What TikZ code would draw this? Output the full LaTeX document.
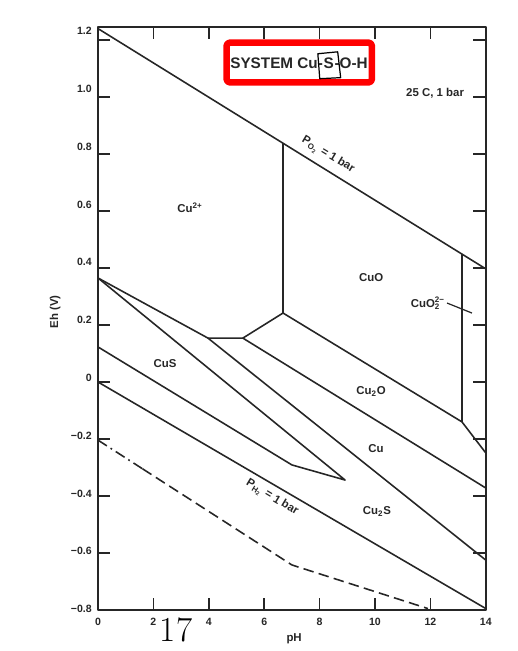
\documentclass[tikz,border=0pt]{standalone}
\usepackage{fontspec}
\newfontfamily\arialfont{Liberation Sans}
\usetikzlibrary{calc, positioning}

\begin{document}
\begin{tikzpicture}[x=0.554cm, y=5.7cm, line join=round,
    grenze/.style={line width=0.9pt, black!85},
    rahmen/.style={line width=1.2pt, black!85},
    feld/.style={font=\arialfont\bfseries\fontsize{6.5}{7}\selectfont, black!85, inner sep=1pt},
    achse/.style={font=\arialfont\bfseries\fontsize{6}{7}\selectfont, black!85, inner sep=0pt},
    titel/.style={font=\arialfont\bfseries\fontsize{8.7}{10}\selectfont, black!85, inner sep=0pt}]
    \useasboundingbox (-3.538,-0.9439) rectangle (15.162,1.3404);
    % Rahmen mit Teilstrichen
    \draw[rahmen] (0,-0.8) rectangle (14,1.245);
    \foreach \v in {1.2,1.0,0.8,0.6,0.4,0.2,0,-0.2,-0.4,-0.6} {
        \draw[grenze] (0,\v) -- ++(0.24cm,0);
        \draw[grenze] (14,\v) -- ++(-0.26cm,0);
    }
    \foreach \p in {2,4,...,12} {
        \draw[grenze] (\p,1.245) -- ++(0,-0.24cm);
        \draw[grenze] (\p,-0.8) -- ++(0,0.24cm);
    }
    \foreach \v/\t [count=\i] in {1.2/1.2, 1.0/1.0, 0.8/0.8, 0.6/0.6, 0.4/0.4, 0.2/0.2, 0/0,
        -0.2/−0.2, -0.4/−0.4, -0.6/−0.6, -0.8/−0.8}
        \node[achse, anchor=east, xshift=-3.4pt, yshift={(1+4*(\v+0.8))*0.567pt}] (eh\i) at (0,\v) {\t};
    \foreach \p [count=\i] in {0,2,...,14}
        \node[achse] (ph\i) at (\p,-0.842) {\p};
    % Eckpunkte der Stabilitaetsfelder
    \coordinate (oA) at (0,1.24);
    \coordinate (oE) at (14,0.397);
    \coordinate (vO) at ($(oA)!0.4771!(oE)$);
    \coordinate (vR) at ($(oA)!0.9386!(oE)$);
    \coordinate (jCuO) at (6.68,0.242);
    \coordinate (jCuOb) at (13.14,-0.140);
    \coordinate (rCuOb) at (14,-0.249);
    \coordinate (hR) at (5.23,0.154);
    \coordinate (hL) at (3.97,0.154);
    \coordinate (apex) at (0,0.365);
    \coordinate (spitze) at (8.92,-0.344);
    \coordinate (gL) at (0,0.123);
    \coordinate (knick) at (7.0,-0.291);
    \coordinate (eR) at (14,-0.625);
    \coordinate (dR) at (14,-0.372);
    \coordinate (hzL) at (0,0);
    \coordinate (hzR) at (14,-0.795);
    \coordinate (dsA) at (0,-0.204);
    \coordinate (dsB) at (7.0,-0.642);
    \coordinate (dsM) at ($(dsA)!0.23!(dsB)$);
    \coordinate (dsE) at (11.91,-0.795);
    % Grenzlinien
    \draw[grenze] (oA) -- (oE);
    \draw[grenze] (vO) -- (jCuO) -- (jCuOb) -- (rCuOb);
    \draw[grenze] (vR) -- (jCuOb);
    \draw[grenze] (apex) -- (hL) -- (hR) -- (jCuO);
    \draw[grenze] (apex) -- (spitze) -- (knick) -- (gL);
    \draw[grenze] (hL) -- (eR);
    \draw[grenze] (hR) -- (dR);
    \draw[grenze] (hzL) -- (hzR);
    \draw[grenze, dash pattern=on 6pt off 2.5pt on 1pt off 2.5pt] (dsA) -- (dsM);
    \draw[grenze, dash pattern=on 6pt off 3pt] (dsM) -- (dsB) -- (dsE);
    % Feldbeschriftungen
    \node[feld] (cu2) at (3.32,0.611) {Cu\textsuperscript{2+}};
    \node[feld] (cuo) at (9.86,0.368) {CuO};
    \node[feld] (cuo2) at (11.91,0.277) {CuO\rlap{\textsubscript{2}}\textsuperscript{2−}};
    \coordinate (cuo2Pfeil) at (13.50,0.242);
    \draw[line width=0.7pt, black!85] (cuo2.east) -- (cuo2Pfeil);
    \node[feld] (cu2o) at (9.86,-0.035) {Cu\textsubscript{2}O};
    \node[feld] (cus) at (2.42,0.063) {CuS};
    \node[feld] (cu) at (10.04,-0.235) {Cu};
    \node[feld] (cu2s) at (10.07,-0.456) {Cu\textsubscript{2}S};
    \node[feld, rotate=-31] (po2) at (8.30,0.796) {P\textsubscript{O\textsubscript{2}} = 1 bar};
    \node[feld, rotate=-31] (ph2) at (6.28,-0.407) {P\textsubscript{H\textsubscript{2}} = 1 bar};
    \node[feld] (bed) at (12.17,1.014) {25 C, 1 bar};
    \node[feld, rotate=90] (ehlab) at (-1.55,0.246) {Eh (V)};
    \node[feld] (phlab) at (7.08,-0.902) {pH};
    \node[font=\fontsize{20}{24}\selectfont, inner sep=0pt] (seite) at (2.82,-0.870) {17};
    % Titel mit Markierung
    \node[titel, anchor=base west] (sysA) at (4.765,1.100) {SYSTEM Cu-};
    \node[titel, anchor=base west] (sysS) at (sysA.base east) {S};
    \node[titel, anchor=base west] (sysB) at (sysS.base east) {-O-H};
    \coordinate (rotA) at (4.64,1.051);
    \coordinate (rotB) at (9.89,1.191);
    \draw[red, line width=3.7pt, rounded corners=2pt] (rotA) rectangle (rotB);
    \draw[line width=0.7pt, black] ($(sysS.center)+(-6.2pt,5.4pt)$) -- ($(sysS.center)+(5.1pt,6.5pt)$)
        -- ($(sysS.center)+(6.8pt,-8.2pt)$) -- ($(sysS.center)+(-5.1pt,-8.8pt)$) -- cycle;
\end{tikzpicture}
\end{document}
